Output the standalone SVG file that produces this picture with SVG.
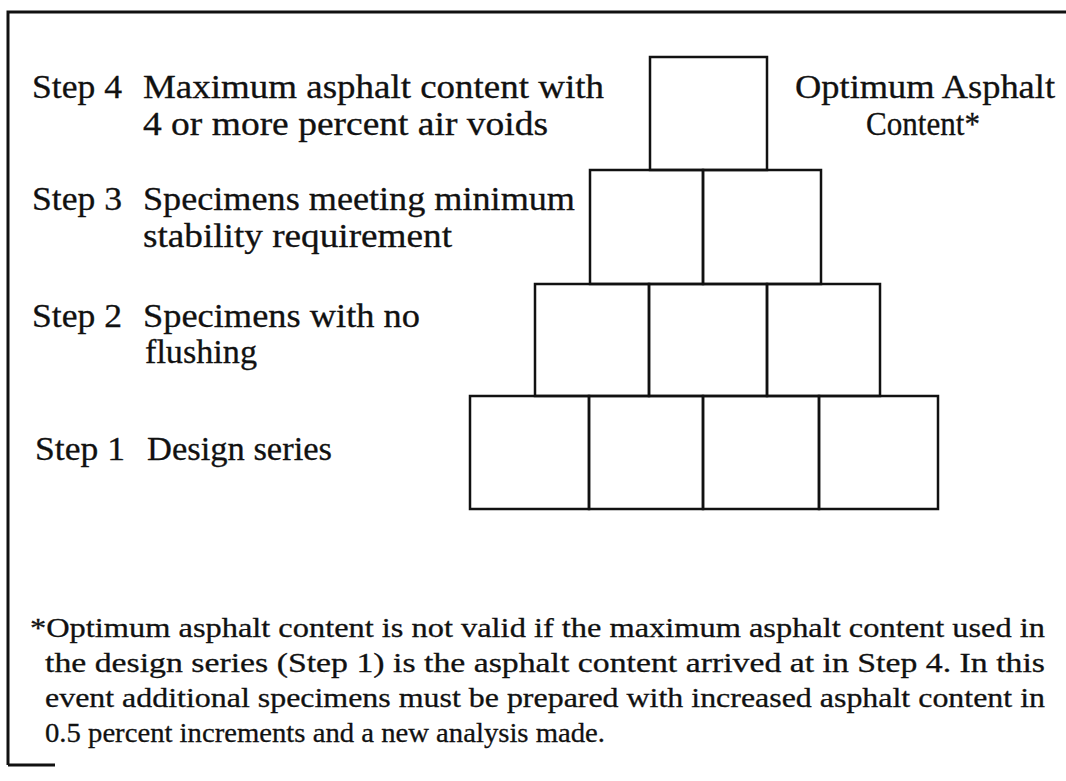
<svg xmlns="http://www.w3.org/2000/svg" width="1066" height="781" viewBox="0 0 1066 781">
<style>
.t{font-family:"Liberation Serif","Times New Roman",serif;font-size:33px;fill:#111;stroke:#111;stroke-width:0.3}
.f{font-family:"Liberation Serif","Times New Roman",serif;font-size:28px;fill:#111;stroke:#111;stroke-width:0.3}
.b{fill:none;stroke:#111;stroke-width:2.5}
.frame{fill:none;stroke:#111;stroke-width:3}
</style>
<rect width="1066" height="781" fill="#fff"/>
<g id="frame">
<path class="frame" d="M8,765 V12 H1066"/>
<path class="frame" d="M8,765 H55"/>
</g>
<g id="pyramid">
<g id="row4"><rect class="b" x="650" y="57" width="117" height="113"/></g>
<g id="row3"><rect class="b" x="590" y="170" width="113" height="114"/><rect class="b" x="703" y="170" width="118" height="114"/></g>
<g id="row2"><rect class="b" x="535" y="284" width="114" height="112"/><rect class="b" x="649" y="284" width="118" height="112"/><rect class="b" x="767" y="284" width="113" height="112"/></g>
<g id="row1"><rect class="b" x="470" y="396" width="119" height="113"/><rect class="b" x="589" y="396" width="114" height="113"/><rect class="b" x="703" y="396" width="116" height="113"/><rect class="b" x="819" y="396" width="119" height="113"/></g>
</g>
<g id="step4">
<text class="t" x="32" y="98" textLength="90" lengthAdjust="spacingAndGlyphs">Step 4</text>
<text class="t" x="143" y="98" textLength="461" lengthAdjust="spacingAndGlyphs">Maximum asphalt content with</text>
<text class="t" x="143" y="135" textLength="405" lengthAdjust="spacingAndGlyphs">4 or more percent air voids</text>
</g>
<g id="optimum">
<text class="t" x="795" y="98" textLength="260" lengthAdjust="spacingAndGlyphs">Optimum Asphalt</text>
<text class="t" x="866" y="135" textLength="114" lengthAdjust="spacingAndGlyphs">Content*</text>
</g>
<g id="step3">
<text class="t" x="32" y="210" textLength="90" lengthAdjust="spacingAndGlyphs">Step 3</text>
<text class="t" x="143" y="210" textLength="432" lengthAdjust="spacingAndGlyphs">Specimens meeting minimum</text>
<text class="t" x="143" y="247" textLength="309" lengthAdjust="spacingAndGlyphs">stability requirement</text>
</g>
<g id="step2">
<text class="t" x="32" y="327" textLength="90" lengthAdjust="spacingAndGlyphs">Step 2</text>
<text class="t" x="143" y="327" textLength="277" lengthAdjust="spacingAndGlyphs">Specimens with no</text>
<text class="t" x="145" y="363" textLength="112" lengthAdjust="spacingAndGlyphs">flushing</text>
</g>
<g id="step1">
<text class="t" x="35" y="460" textLength="90" lengthAdjust="spacingAndGlyphs">Step 1</text>
<text class="t" x="147" y="460" textLength="185" lengthAdjust="spacingAndGlyphs">Design series</text>
</g>
<g id="footnote">
<text class="f" x="30" y="637" textLength="1015" lengthAdjust="spacingAndGlyphs">*Optimum asphalt content is not valid if the maximum asphalt content used in</text>
<text class="f" x="45" y="672" textLength="1000" lengthAdjust="spacingAndGlyphs">the design series (Step 1) is the asphalt content arrived at in Step 4.  In this</text>
<text class="f" x="45" y="707" textLength="1000" lengthAdjust="spacingAndGlyphs">event additional specimens must be prepared with increased asphalt content in</text>
<text class="f" x="45" y="742" textLength="560" lengthAdjust="spacingAndGlyphs">0.5 percent increments and a new analysis made.</text>
</g>
</svg>
